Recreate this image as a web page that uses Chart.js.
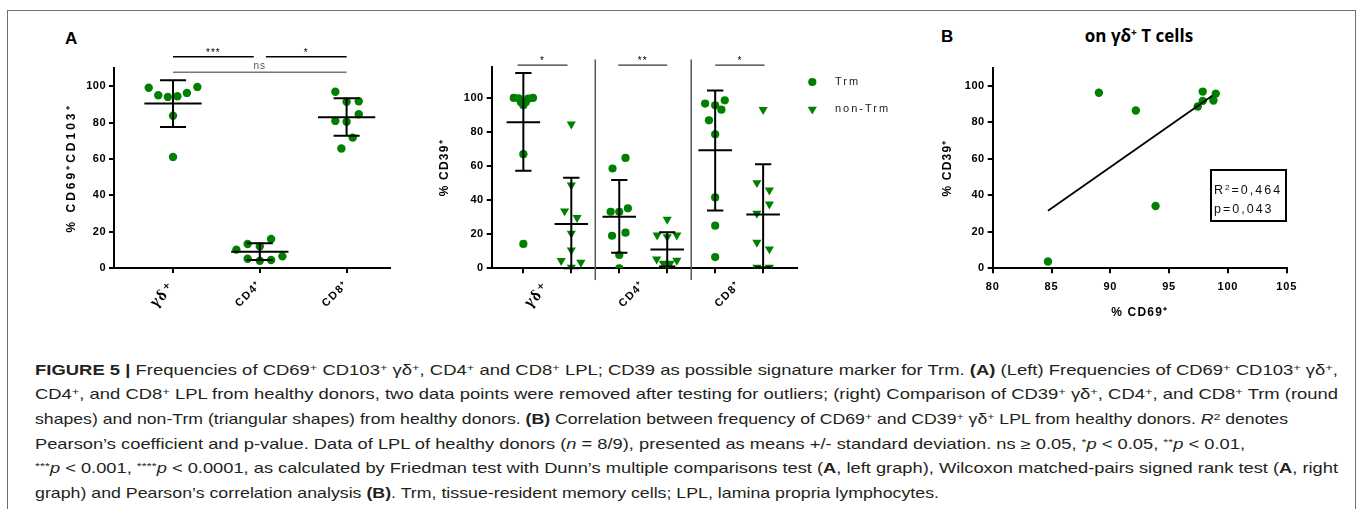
<!DOCTYPE html>
<html>
<head>
<meta charset="utf-8">
<title>Figure 5</title>
<script src="https://cdn.jsdelivr.net/npm/chart.js@4.4.1/dist/chart.umd.min.js"></script>
<style>
  body { margin: 0; width: 1357px; height: 509px; overflow: hidden; position: relative; background: #fff; font-family: "Liberation Sans", Arial, sans-serif; }
  .frame { position: absolute; left: 7px; top: 10px; width: 1349px; height: 560px; border: 1.5px solid #6f6f6f; box-sizing: border-box; }
  canvas { position: absolute; }
  .panel { position: absolute; font-weight: bold; font-size: 17px; line-height: 17px; color: #000; }
  .title { position: absolute; left: 989px; width: 300px; top: 27px; text-align: center; font: bold 17px/17px "Open Sans", sans-serif; color: #000; }
  .stats { position: absolute; left: 1210px; top: 169px; width: 77px; height: 53px; box-sizing: border-box; border: 2px solid #000; font-size: 12.5px; letter-spacing: 2px; line-height: 18.5px; padding: 10px 0 0 2px; white-space: nowrap; color: #111; }
  .stats sup { font-size: 65%; line-height: 0; vertical-align: 0.5em; }
  .caption { position: absolute; left: 35px; top: 357.7px; color: #231f20; font: 14.2px/24.65px "Liberation Sans Narrow", "Liberation Sans", Arial, sans-serif; white-space: nowrap; }
  .caption span { display: inline-block; transform-origin: 0 50%; }
  .caption sup { font-size: 70%; line-height: 0; vertical-align: 0.45em; }
</style>
</head>
<body>
<div class="frame"></div>
<div class="panel" style="left:65px;top:29.5px">A</div>
<div class="panel" style="left:941px;top:28px">B</div>
<div class="title">on γδ<sup style="font-size:60%;vertical-align:0.6em;line-height:0">+</sup> T cells</div>

<canvas id="left" width="360" height="310" style="left:40px;top:20px"></canvas>
<canvas id="mid" width="510" height="310" style="left:410px;top:20px"></canvas>
<canvas id="corr" width="380" height="310" style="left:930px;top:20px"></canvas>

<div class="stats">R<sup>2</sup>=0,464<br>p=0,043</div>

<div class="caption" id="caption">
  <div><span data-w="1303"><b>FIGURE 5 |</b> Frequencies of CD69<sup>+</sup> CD103<sup>+</sup> γδ<sup>+</sup>, CD4<sup>+</sup> and CD8<sup>+</sup> LPL; CD39 as possible signature marker for Trm. <b>(A)</b> (Left) Frequencies of CD69<sup>+</sup> CD103<sup>+</sup> γδ<sup>+</sup>,</span></div>
  <div><span data-w="1303">CD4<sup>+</sup>, and CD8<sup>+</sup> LPL from healthy donors, two data points were removed after testing for outliers; (right) Comparison of CD39<sup>+</sup> γδ<sup>+</sup>, CD4<sup>+</sup>, and CD8<sup>+</sup> Trm (round</span></div>
  <div><span data-w="1253">shapes) and non-Trm (triangular shapes) from healthy donors. <b>(B)</b> Correlation between frequency of CD69<sup>+</sup> and CD39<sup>+</sup> γδ<sup>+</sup> LPL from healthy donors. <i>R</i><sup>2</sup> denotes</span></div>
  <div><span data-w="1210">Pearson’s coefficient and p-value. Data of LPL of healthy donors (<i>n</i> = 8/9), presented as means +/- standard deviation. ns ≥ 0.05, <sup>*</sup><i>p</i> &lt; 0.05, <sup>**</sup><i>p</i> &lt; 0.01,</span></div>
  <div><span data-w="1303"><sup>***</sup><i>p</i> &lt; 0.001, <sup>****</sup><i>p</i> &lt; 0.0001, as calculated by Friedman test with Dunn’s multiple comparisons test (<b>A</b>, left graph), Wilcoxon matched-pairs signed rank test (<b>A</b>, right</span></div>
  <div><span data-w="904">graph) and Pearson’s correlation analysis <b>(B)</b>. Trm, tissue-resident memory cells; LPL, lamina propria lymphocytes.</span></div>
</div>

<script>
// ---------- data ----------

// A left: % CD69+CD103+
const leftGroups = ['γδ⁺', 'CD4⁺', 'CD8⁺'];
const leftPos = [1, 2, 3];
const leftGd = [99.1, 95.0, 94.1, 94.5, 96.3, 99.6, 83.7, 61.1];
const leftGdOff = [-0.28, -0.17, -0.06, 0.05, 0.16, 0.28, 0, 0];
const leftCd4 = [10.1, 13.2, 11.9, 16.0, 5.1, 4.0, 4.4, 6.4];
const leftCd4Off = [-0.27, -0.14, 0, 0.13, -0.14, 0, 0.13, 0.26];
const leftCd8 = [96.9, 91.4, 91.7, 84.6, 80.9, 80.4, 71.7, 65.7];
const leftCd8Off = [-0.13, 0, 0.14, 0.14, -0.13, 0, 0.07, -0.06];
const leftMean = [90.5, 9.0, 82.9];
const leftSdHi = [103.3, 13.6, 93.4];
const leftSdLo = [77.6, 4.4, 72.7];
const leftSigFrom = [1, 2.07, 1];
const leftSigTo = [1.93, 3, 3];
const leftSigY = [116.2, 116.2, 107.6];
const leftSigText = ['***', '*', 'ns'];

// A right: % CD39+, Trm vs non-Trm
const midGroups = ['γδ⁺', 'CD4⁺', 'CD8⁺'];
const midLabelPos = [1.5, 3.5, 5.5];
const midTrmPos = [1, 3, 5];
const midNonPos = [2, 4, 6];
const midTrm = [
  [100, 99.8, 97.5, 95.7, 97.5, 99.6, 100, 67.0, 14.3],
  [58.6, 64.8, 33.2, 33.2, 35.2, 19.1, 20.9, 7.8, 0],
  [96.7, 95.7, 98.6, 93.1, 86.9, 78.7, 41.6, 25.0, 6.6]
];
const midTrmOff = [
  [-0.2, -0.1, -0.05, 0, 0.05, 0.1, 0.2, 0, 0],
  [-0.14, 0.13, -0.18, 0, 0.18, -0.15, 0.13, 0, 0],
  [-0.21, 0, 0.2, 0.13, -0.13, 0, 0, 0, 0]
];
const midNon = [
  [84.6, 48.8, 33.6, 29.7, 20.5, 10.7, 4.5, 3.5, 0.6],
  [28.7, 19.5, 18.5, 19.5, 5.4, 2.9, 2.9, 4.6, 0.7],
  [93.1, 50.2, 45.9, 37.7, 32.2, 15.2, 11.3, 0.6, 0.6]
];
const midNonOff = [
  [0, 0, -0.14, 0.12, 0, 0, -0.21, 0.2, 0],
  [0, -0.21, 0, 0.2, -0.22, -0.08, 0.06, 0.2, 0],
  [0, -0.13, 0.13, 0.13, -0.13, -0.13, 0.13, -0.13, 0.13]
];
const midTrmMean = [85.7, 30.3, 69.3];
const midTrmHi = [114.6, 51.8, 104.4];
const midTrmLo = [57.2, 9.2, 34.0];
const midNonMean = [26.0, 11.1, 31.6];
const midNonHi = [53.1, 21.1, 61.1];
const midNonLo = [0, 1.1, 0.6];
const midSeparators = [2.5, 4.5];
const midSigFrom = [0.88, 2.98, 5.0];
const midSigTo = [1.92, 4.0, 6.03];
const midSigY = [119.3, 119.3, 119.3];
const midSigText = ['*', '**', '*'];

// B: CD69 vs CD39 on γδ+ T cells
const corrCd69 = [84.7, 89.03, 92.17, 93.85, 97.44, 97.86, 97.86, 98.77, 98.97];
const corrCd39 = [3.7, 96.3, 86.5, 34.2, 88.7, 96.9, 91.8, 92.0, 95.8];
const fitCd69 = [84.7, 98.7];
const fitCd39 = [31.6, 94.7];

// ---------- styling ----------
const GREEN = '#008000';
const SANS = '"Liberation Sans", Arial, sans-serif';
const tickFont = { family: SANS, size: 11, weight: 'bold' };
const catFont = { family: SANS, size: 11, weight: 'bold' };
const gdFont = { family: '"Liberation Serif", "DejaVu Serif", serif', size: 16, weight: 'bold' };
const axisTitleFont = { family: SANS, size: 12, weight: 'bold' };

Chart.defaults.animation = false;
Chart.defaults.color = '#000';
Chart.defaults.plugins.legend.display = false;
Chart.defaults.plugins.tooltip.enabled = false;

function spread(pos, vals, offs) {
  return vals.map((v, i) => ({ x: pos + offs[i], y: v }));
}

function errBar(pos, mean, lo, hi, halfMean, halfCap) {
  return [
    { x: pos - halfMean, y: mean }, { x: pos + halfMean, y: mean }, { x: pos, y: null },
    { x: pos, y: lo }, { x: pos, y: hi }, { x: pos, y: null },
    { x: pos - halfCap, y: hi }, { x: pos + halfCap, y: hi }, { x: pos, y: null },
    { x: pos - halfCap, y: lo }, { x: pos + halfCap, y: lo }
  ];
}

function lineSet(data, color, width, order) {
  return { type: 'scatter', data: data, showLine: true, borderColor: color, borderWidth: width,
           pointRadius: 0, order: order, clip: false, spanGaps: false };
}

function yAxis(max, title, width, titlePad) {
  return {
    min: 0, max: max,
    ticks: { stepSize: 20, includeBounds: false, font: tickFont, padding: 3, color: '#000' },
    grid: { drawOnChartArea: false, color: '#000', lineWidth: 2, tickLength: 5 },
    border: { color: '#000', width: 2 },
    title: { display: true, text: title, font: axisTitleFont, color: '#000', padding: { top: titlePad, bottom: 0 } },
    afterFit: s => { s.width = width; }
  };
}

// letter spacing per scale (ticks, title), the originals are typeset loosely
function spacer(map) {
  return {
    id: 'spacer',
    afterLayout(chart) {
      for (const id in map) {
        const s = chart.scales[id];
        if (!s || s._spaced) continue;
        const drawLabels = s.drawLabels, drawTitle = s.drawTitle;
        s.drawLabels = function (area) {
          this.ctx.save(); this.ctx.letterSpacing = map[id][0] + 'px';
          drawLabels.call(this, area); this.ctx.restore();
        };
        s.drawTitle = function () {
          this.ctx.save(); this.ctx.letterSpacing = map[id][1] + 'px';
          drawTitle.call(this); this.ctx.restore();
        };
        s._spaced = true;
      }
    }
  };
}

function sigLabels(from, to, ys, texts) {
  return {
    id: 'sigLabels',
    afterDatasetsDraw(chart) {
      const { ctx, scales: { x, y } } = chart;
      ctx.save();
      ctx.letterSpacing = '1px';
      ctx.font = '10px ' + SANS;
      ctx.textAlign = 'center';
      ctx.textBaseline = 'alphabetic';
      texts.forEach((t, i) => {
        ctx.fillStyle = t === 'ns' ? '#555' : '#000';
        const px = x.getPixelForValue((from[i] + to[i]) / 2);
        const py = y.getPixelForValue(ys[i]) - (t === 'ns' ? 3 : 1);
        ctx.fillText(t, px, py);
      });
      ctx.restore();
    }
  };
}

const sideLegend = {
  id: 'sideLegend',
  afterDraw(chart) {
    const { ctx, chartArea: a } = chart;
    ctx.save();
    ctx.font = '11px ' + SANS;
    ctx.letterSpacing = '2px';
    ctx.textBaseline = 'middle';
    chart.data.datasets.forEach(d => {
      if (d.legendRow === undefined) return;
      const y = a.top + 14.7 + d.legendRow * 27.3;
      ctx.fillStyle = d.backgroundColor;
      Chart.helpers.drawPoint(ctx, { pointStyle: d.pointStyle, radius: d.pointRadius, rotation: d.pointRotation || 0, borderWidth: 0 }, a.right + 15.6, y);
      ctx.fillStyle = '#222';
      ctx.fillText(d.label, a.right + 38.3, y);
    });
    ctx.restore();
  }
};

// ---------- A left ----------
const leftDots = [].concat(
  spread(leftPos[0], leftGd, leftGdOff),
  spread(leftPos[1], leftCd4, leftCd4Off),
  spread(leftPos[2], leftCd8, leftCd8Off)
);
const leftSets = [
  { type: 'scatter', label: 'cells', data: leftDots, backgroundColor: GREEN, pointRadius: 4.2, pointBorderWidth: 0, order: 2 }
];
leftPos.forEach((p, i) => leftSets.push(lineSet(errBar(p, leftMean[i], leftSdLo[i], leftSdHi[i], 0.33, 0.15), '#000', 2, 1)));
leftSigText.forEach((t, i) => leftSets.push(lineSet(
  [{ x: leftSigFrom[i], y: leftSigY[i] }, { x: leftSigTo[i], y: leftSigY[i] }],
  t === 'ns' ? '#777' : '#000', 1.5, 0)));

new Chart(document.getElementById('left'), {
  type: 'scatter',
  data: { datasets: leftSets },
  options: {
    responsive: false, events: [],
    layout: { padding: { left: 0, top: 48, right: 10, bottom: 0 } },
    scales: {
      x: {
        type: 'linear', min: 0.32, max: 3.5,
        afterBuildTicks: s => { s.ticks = leftPos.map(v => ({ value: v })); },
        ticks: {
          autoSkip: false, minRotation: 45, maxRotation: 45, padding: 5, color: '#000',
          callback: v => leftGroups[leftPos.indexOf(v)] || '',
          font: c => (c.tick && c.tick.value === leftPos[0]) ? gdFont : catFont
        },
        grid: { drawOnChartArea: false, color: '#000', lineWidth: 2, tickLength: 5 },
        border: { color: '#000', width: 2 },
        afterFit: s => { s.height = 62; }
      },
      y: yAxis(110, '% CD69⁺CD103⁺', 74, 24.5)
    }
  },
  plugins: [spacer({ x: [1.5, 0], y: [0.5, 3] }), sigLabels(leftSigFrom, leftSigTo, leftSigY, leftSigText)]
});

// ---------- A right ----------
let trmDots = [], nonDots = [];
midTrmPos.forEach((p, g) => { trmDots = trmDots.concat(spread(p, midTrm[g], midTrmOff[g])); });
midNonPos.forEach((p, g) => { nonDots = nonDots.concat(spread(p, midNon[g], midNonOff[g])); });
const midSets = [
  { type: 'scatter', label: 'Trm', data: trmDots, backgroundColor: GREEN, pointStyle: 'circle', pointRadius: 4.1, pointBorderWidth: 0, order: 2, legendRow: 0 },
  { type: 'scatter', label: 'non-Trm', data: nonDots, backgroundColor: GREEN, pointStyle: 'triangle', pointRotation: 180, pointRadius: 5.3, pointBorderWidth: 0, order: 2, legendRow: 1 }
];
midTrmPos.forEach((p, i) => midSets.push(lineSet(errBar(p, midTrmMean[i], midTrmLo[i], midTrmHi[i], 0.35, 0.17), '#000', 2, 1)));
midNonPos.forEach((p, i) => midSets.push(lineSet(errBar(p, midNonMean[i], midNonLo[i], midNonHi[i], 0.35, 0.17), '#000', 2, 1)));
midSeparators.forEach(s => midSets.push(lineSet([{ x: s, y: -6.9 }, { x: s, y: 122.6 }], '#555', 1.5, 3)));
midSigText.forEach((t, i) => midSets.push(lineSet(
  [{ x: midSigFrom[i], y: midSigY[i] }, { x: midSigTo[i], y: midSigY[i] }], '#333', 1.3, 0)));

const midTicks = midTrmPos.concat(midNonPos, midLabelPos).sort((a, b) => a - b);

new Chart(document.getElementById('mid'), {
  type: 'scatter',
  data: { datasets: midSets },
  options: {
    responsive: false, events: [],
    layout: { padding: { left: 0, top: 47.3, right: 123.3, bottom: 0 } },
    scales: {
      x: {
        type: 'linear', min: 0.34, max: 6.7,
        afterBuildTicks: s => { s.ticks = midTicks.map(v => ({ value: v })); },
        ticks: {
          autoSkip: false, minRotation: 45, maxRotation: 45, padding: 5, color: '#000',
          callback: v => { const i = midLabelPos.indexOf(v); return i >= 0 ? midGroups[i] : ''; },
          font: c => (c.tick && c.tick.value === midLabelPos[0]) ? gdFont : catFont
        },
        grid: {
          drawOnChartArea: false, lineWidth: 2, tickLength: 5,
          tickColor: c => (c.tick && midLabelPos.includes(c.tick.value)) ? 'rgba(0,0,0,0)' : '#000'
        },
        border: { color: '#000', width: 2 },
        afterFit: s => { s.height = 61.7; }
      },
      y: yAxis(118, '% CD39⁺', 81.7, 27.8)
    }
  },
  plugins: [spacer({ x: [1.5, 0], y: [0.5, 1.2] }), sigLabels(midSigFrom, midSigTo, midSigY, midSigText), sideLegend]
});

// ---------- B ----------
new Chart(document.getElementById('corr'), {
  type: 'scatter',
  data: {
    datasets: [
      { type: 'scatter', label: 'donors', data: corrCd69.map((v, i) => ({ x: v, y: corrCd39[i] })),
        backgroundColor: GREEN, pointRadius: 4.2, pointBorderWidth: 0, order: 1 },
      lineSet(fitCd69.map((v, i) => ({ x: v, y: fitCd39[i] })), '#000', 1.8, 0)
    ]
  },
  options: {
    responsive: false, events: [],
    layout: { padding: { left: 0, top: 47.7, right: 23.3, bottom: 0 } },
    scales: {
      x: {
        type: 'linear', min: 80, max: 105,
        ticks: { stepSize: 5, font: tickFont, padding: 7, maxRotation: 0, color: '#000' },
        grid: { drawOnChartArea: false, color: '#000', lineWidth: 2, tickLength: 5 },
        border: { color: '#000', width: 2 },
        title: { display: true, text: '% CD69⁺', font: axisTitleFont, color: '#000', padding: { top: 0, bottom: 9.8 } },
        afterFit: s => { s.height = 61.7; }
      },
      y: yAxis(110, '% CD39⁺', 62.7, 10.8)
    }
  },
  plugins: [spacer({ x: [0.8, 1.2], y: [0.5, 1.2] })]
});

// caption: squeeze each line to the width it has in print
function fitCaption() {
  document.querySelectorAll('#caption span[data-w]').forEach(sp => {
    sp.style.transform = 'none';
    const w = sp.getBoundingClientRect().width;
    if (w > 0) sp.style.transform = 'scaleX(' + (Number(sp.dataset.w) / w) + ')';
  });
}
fitCaption();
document.fonts.ready.then(fitCaption);
</script>
</body>
</html>
